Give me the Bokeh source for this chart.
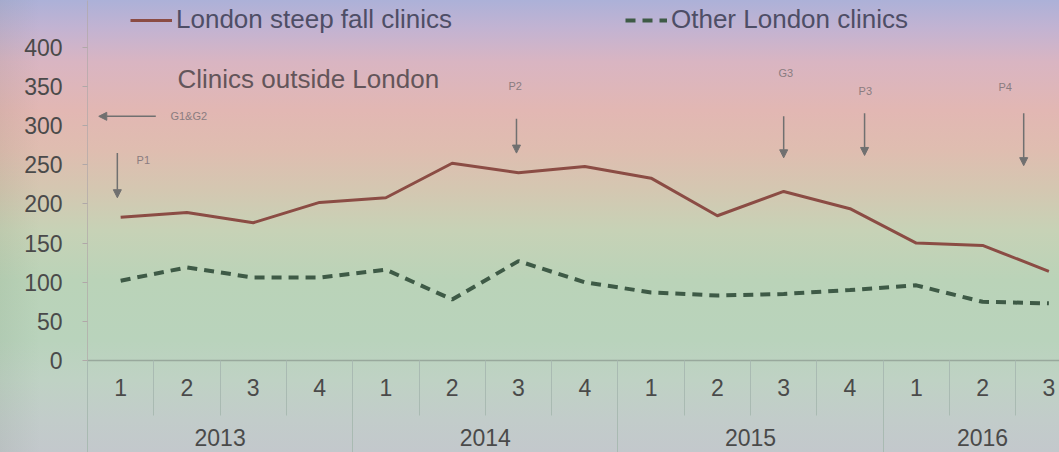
from bokeh.plotting import figure
from bokeh.models import (Range1d, LinearAxis, FixedTicker, Legend, LegendItem,
                          Arrow, NormalHead, Label)
from bokeh.core.properties import value
from bokeh.embed import file_html
from bokeh.resources import INLINE

# Quarterly counts, Q1 2013 to Q3 2016
years = [2013, 2013, 2013, 2013, 2014, 2014, 2014, 2014,
         2015, 2015, 2015, 2015, 2016, 2016, 2016]
quarters = [1, 2, 3, 4, 1, 2, 3, 4, 1, 2, 3, 4, 1, 2, 3]
steep_fall = [183, 189, 176, 202, 208, 252, 240, 248, 233, 185, 216, 194, 150, 147, 114]
other_london = [102, 119, 106, 106, 116, 78, 127, 100, 87, 83, 85, 90, 96, 75, 73]
y_ticks = [0, 50, 100, 150, 200, 250, 300, 350, 400]

# Event markers: label, arrow start/end (quarter index, value), label anchor
events = [
    ("G1&G2", (0.53, 312), (-0.33, 312), (0.75, 313)),
    ("P1", (-0.05, 265), (-0.05, 208), (0.24, 256)),
    ("P2", (5.97, 309), (5.97, 265), (5.85, 351)),
    ("G3", (10.0, 312), (10.0, 259), (9.92, 368)),
    ("P3", (11.22, 316), (11.22, 262), (11.13, 344)),
    ("P4", (13.62, 316), (13.62, 249), (13.24, 349)),
]

FONT = "Liberation Sans"
idx = list(range(len(quarters)))

p = figure(frame_width=972, frame_height=360,
           min_border_left=87, min_border_right=0, min_border_top=0, min_border_bottom=92,
           x_range=Range1d(-0.5, 14.16), y_range=Range1d(0, 460),
           output_backend="svg", toolbar_location=None,
           background_fill_color=None, border_fill_color=None, outline_line_color=None)

p.styles = {
    "background-image":
        "linear-gradient(to right, rgba(70,90,60,0.07) 0px, rgba(70,90,60,0) 40px),"
        "linear-gradient(to bottom, #acb1d8 0px, #c2b3d2 28px, #d9b5c2 62px, #e2b7b3 110px,"
        " #dfbdb0 150px, #d4c7b1 190px, #c7d2b6 230px, #bad3b8 280px, #b9d3bc 340px,"
        " #bfd2c4 380px, #c2ccca 420px, #c3c8cc 452px)"
}

p.xgrid.visible = False
p.ygrid.visible = False

# Quarter axis; minor ticks act as the category separators
xa = p.xaxis[0]
xa.ticker = FixedTicker(ticks=idx, minor_ticks=[i - 0.5 for i in range(len(idx) + 1)])
xa.major_label_overrides = {i: str(q) for i, q in zip(idx, quarters)}
xa.axis_line_color = "#98a89c"
xa.axis_line_width = 1.5
xa.major_tick_out = 0
xa.major_tick_in = 0
xa.minor_tick_out = 55
xa.minor_tick_in = 0
xa.minor_tick_line_color = "#a9bab2"
xa.major_label_standoff = -37
xa.major_label_text_font = FONT
xa.major_label_text_font_size = "23px"
xa.major_label_text_color = "#4a4a4a"

# Year axis below the quarters; minor ticks separate the years
year_list = sorted(set(years))
year_centers = [sum(i for i in idx if years[i] == y) / years.count(y) for y in year_list]
year_bounds = [-0.5] + [i - 0.5 for i in idx[1:] if years[i] != years[i - 1]]
ya2 = LinearAxis(ticker=FixedTicker(ticks=year_centers, minor_ticks=year_bounds))
ya2.major_label_overrides = {c: str(y) for c, y in zip(year_centers, year_list)}
ya2.axis_line_color = None
ya2.major_tick_out = 0
ya2.major_tick_in = 0
ya2.minor_tick_out = 75
ya2.minor_tick_in = 0
ya2.minor_tick_line_color = "#a9bab2"
ya2.major_label_standoff = -45
ya2.major_label_text_font = FONT
ya2.major_label_text_font_size = "23px"
ya2.major_label_text_color = "#4a4a4a"
p.add_layout(ya2, "below")

# Value axis
ya = p.yaxis[0]
ya.ticker = FixedTicker(ticks=y_ticks)
ya.axis_line_color = "#b0a8a8"
ya.axis_line_alpha = 0.7
ya.major_tick_out = 5
ya.major_tick_in = 0
ya.major_tick_line_color = "#b0a8a8"
ya.minor_tick_out = 0
ya.minor_tick_in = 0
ya.major_label_standoff = 20
ya.major_label_text_font = FONT
ya.major_label_text_font_size = "23px"
ya.major_label_text_color = "#4a4a4a"

# Series
r1 = p.line(idx, steep_fall, line_color="#8b4c44", line_width=3, line_join="round")
r2 = p.line(idx, other_london, line_color="#3e5a46", line_width=4, line_dash="10 7")

leg_style = dict(orientation="horizontal", glyph_width=42, glyph_height=30,
                 label_height=30, label_standoff=4, padding=0, margin=0, spacing=0,
                 background_fill_alpha=0, border_line_color=None,
                 label_text_font=FONT, label_text_font_size="26px",
                 label_text_color="#4e4e66")
leg1 = Legend(items=[LegendItem(label=value("London steep fall clinics"), renderers=[r1])],
              location=(43, 325), **leg_style)
leg2 = Legend(items=[LegendItem(label=value("Other London clinics"), renderers=[r2])],
              location=(538, 325), **leg_style)
p.add_layout(leg1)
p.add_layout(leg2)

p.add_layout(Label(x=90, y=282, x_units="screen", y_units="screen",
                   text="Clinics outside London", text_font=FONT, text_font_size="26px",
                   text_color="#63555a", text_baseline="middle", text_align="left"))

# Event arrows and their labels
for name, (xs, ys), (xe, ye), (lx, ly) in events:
    p.add_layout(Arrow(x_start=xs, y_start=ys, x_end=xe, y_end=ye,
                       line_color="#707070", line_width=1.5,
                       end=NormalHead(size=8, fill_color="#707070", line_color="#707070")))
    p.add_layout(Label(x=lx, y=ly, text=name, text_font=FONT, text_font_size="11px",
                       text_color="#8a7c80", text_baseline="middle", text_align="left"))

open("out.html", "w").write(file_html(p, INLINE))
